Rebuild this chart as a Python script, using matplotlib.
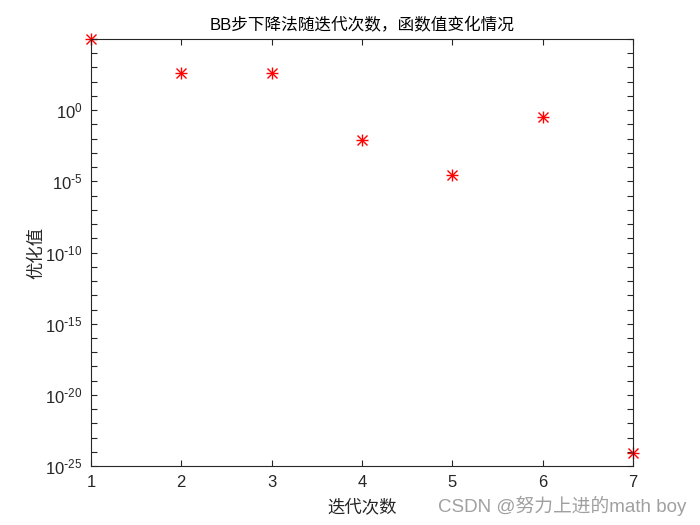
import matplotlib
matplotlib.use("Agg")
import matplotlib.pyplot as plt
import matplotlib.ticker as mticker
import numpy as np

iterations = [1, 2, 3, 4, 5, 6, 7]
values = [1.0e5, 3.8e2, 3.8e2, 7.7e-3, 3.0e-5, 0.32, 8.0e-25]
x_ticks = [1, 2, 3, 4, 5, 6, 7]

plt.rcParams['font.family'] = ['Liberation Sans', 'Noto Sans CJK SC', 'DejaVu Sans']
plt.rcParams['axes.unicode_minus'] = False

fig = plt.figure(figsize=(7, 5.25), dpi=100)
ax = fig.add_axes([0.13, 0.112, 0.774, 0.814])
ax.plot(iterations, values, linestyle='none', marker='+', color='red',
        markersize=9, markeredgewidth=1.0, clip_on=False)
ax.plot(iterations, values, linestyle='none', marker='x', color='red',
        markersize=6.5, markeredgewidth=1.0, clip_on=False)
ax.set_yscale('log')
ax.set_xlim(1, 7)
ax.set_ylim(1e-25, 1e5)
ax.set_xticks(x_ticks)
ax.yaxis.set_major_locator(mticker.FixedLocator([10.0**k for k in range(-25, 6)]))
ax.yaxis.set_minor_locator(mticker.NullLocator())

def fmt(v, pos):
    e = int(round(np.log10(v)))
    if e % 5 == 0 and e < 5:
        if e < 0:
            return r'$\mathregular{10^{\text{-}%d}}$' % (-e)
        return r'$\mathregular{10^{%d}}$' % e
    return ''
ax.yaxis.set_major_formatter(mticker.FuncFormatter(fmt))
ax.tick_params(direction='in', top=True, right=True, length=4, width=0.8,
               labelsize=12, colors='#262626', pad=6)
for s in ax.spines.values():
    s.set_linewidth(0.8)
    s.set_color('#262626')

cjk = ['Noto Sans CJK SC', 'DejaVu Sans']
ax.set_title('BB步下降法随迭代次数，函数值变化情况', fontsize=12,
             family=['Liberation Sans', 'Noto Sans CJK SC'], pad=6)
ax.set_xlabel('迭代次数', fontsize=12.5, family=cjk, color='#262626', labelpad=6)
ax.set_ylabel('优化值', fontsize=12.5, family=cjk, color='#262626', labelpad=0)
fig.text(0.98, 0.018, 'CSDN @努力上进的math boy', ha='right', va='bottom',
         fontsize=13.5, color='#a0a0a0', family=['Liberation Sans', 'Noto Sans CJK SC'])
fig.savefig('out.png', dpi=100)
